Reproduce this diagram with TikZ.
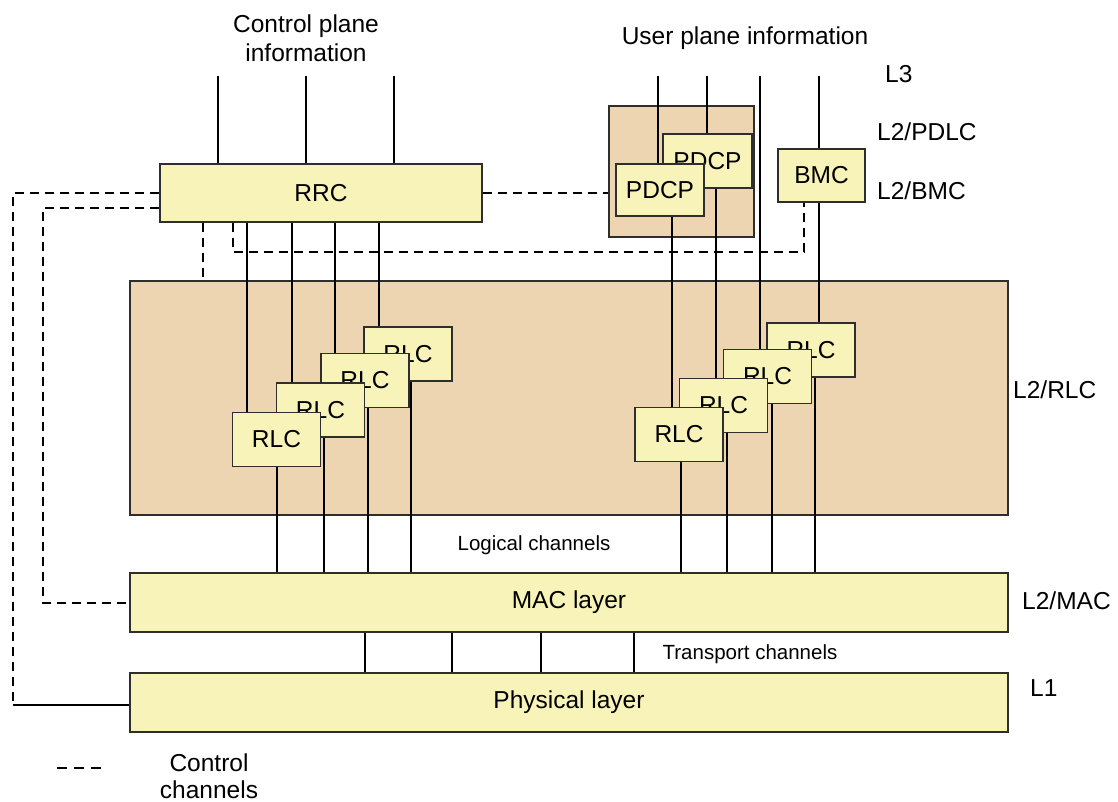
\documentclass[tikz,border=0pt]{standalone}
\usepackage{fontspec}
\setmainfont{Liberation Sans}
\definecolor{boxfill}{HTML}{F8F4B9}
\definecolor{areafill}{HTML}{EDD5B1}
\definecolor{edge}{HTML}{2E2E2E}
\pgfdeclarelayer{base}
\pgfdeclarelayer{wires}
\pgfsetlayers{base,wires,main}
\begin{document}
\begin{tikzpicture}[x=1pt,y=-1pt,
  bigtext/.style={font=\fontsize{24.5}{29}\selectfont, inner sep=0pt, align=center},
  smalltext/.style={font=\fontsize{20.5}{24}\selectfont, inner sep=0pt},
  layerbox/.style={draw=edge, line width=1.4pt, fill=boxfill, inner sep=0pt,
    font=\fontsize{24.5}{29}\selectfont},
  areabox/.style={draw=edge, line width=1.4pt, fill=areafill, inner sep=0pt},
  unitbox/.style={layerbox, minimum width=88pt, minimum height=54pt},
  link/.style={line width=1.1pt, black},
  ctrl/.style={line width=1.3pt, black, dash pattern=on 9pt off 6pt}]
\useasboundingbox (0,0) rectangle (1118,802);

% ---- boxes
\node[layerbox, minimum width=322pt, minimum height=58pt] (rrc) at (321,193) {RRC};
\node[layerbox, minimum width=878pt, minimum height=59pt] (mac) at (569,602.5) {MAC layer};
\node[layerbox, minimum width=878pt, minimum height=59pt] (phy) at (569,702.5) {Physical layer};

\node[unitbox, minimum width=89pt] (pdcpb) at (707.5,161) {PDCP};
\node[unitbox, minimum height=52pt] (pdcpf) at (660,190) {PDCP};
\node[unitbox, minimum width=87pt, minimum height=53pt] (bmc) at (821.5,175.5) {BMC};

% RLC units, back to front
\node[unitbox] (l4) at (408,354) {RLC};
\node[unitbox] (l3) at (365,380.5) {RLC};
\node[unitbox] (l2) at (320.5,410) {RLC};
\node[unitbox] (l1) at (276.5,439.5) {RLC};
\node[unitbox] (r4) at (811,350) {RLC};
\node[unitbox] (r3) at (767.5,376.5) {RLC};
\node[unitbox] (r2) at (723.5,405.5) {RLC};
\node[unitbox] (r1) at (679,434.5) {RLC};

% ---- background areas
\begin{pgfonlayer}{base}
\node[areabox, minimum width=878pt, minimum height=234pt] (rlcarea) at (569,398) {};
\node[areabox, minimum width=145pt, minimum height=131pt] (pdcparea) at (681.5,171.5) {};
\end{pgfonlayer}

% free ends of the upper interfaces
\coordinate (c1) at (218,76);
\coordinate (c2) at (306,76);
\coordinate (c3) at (394,76);
\coordinate (u1) at (658,76);
\coordinate (u2) at (707,76);
\coordinate (u3) at (760,76);
\coordinate (u4) at (819,76);
\coordinate (ko) at (13,193);
\coordinate (ki) at (43,208);
\coordinate (kr) at (233,252);

% ---- connectors
\begin{pgfonlayer}{wires}
% control plane into RRC
\draw[link] (c1) -- (c1 |- rrc.north);
\draw[link] (c2) -- (c2 |- rrc.north);
\draw[link] (c3) -- (c3 |- rrc.north);

% RRC down to the RLC units
\draw[link] (rrc.south -| 247,0) -- (l1.north -| 247,0);
\draw[link] (rrc.south -| 292,0) -- (l2.north -| 292,0);
\draw[link] (rrc.south -| 335,0) -- (l3.north -| 335,0);
\draw[link] (rrc.south -| 379,0) -- (l4.north -| 379,0);

% user plane
\draw[link] (u1) -- (u1 |- pdcpf.north);
\draw[link] (u2) -- (u2 |- pdcpb.north);
\draw[link] (u3) -- (u3 |- r3.north);
\draw[link] (u4) -- (u4 |- r4.north);
\draw[link] (pdcpf.south -| 672,0) -- (r1.north -| 672,0);
\draw[link] (pdcpb.south -| 716,0) -- (r2.north -| 716,0);

% logical channels
\draw[link] (l1.south -| 277,0) -- (mac.north -| 277,0);
\draw[link] (l2.south -| 324,0) -- (mac.north -| 324,0);
\draw[link] (l3.south -| 368,0) -- (mac.north -| 368,0);
\draw[link] (l4.south -| 411,0) -- (mac.north -| 411,0);
\draw[link] (r1.south -| 681,0) -- (mac.north -| 681,0);
\draw[link] (r2.south -| 727,0) -- (mac.north -| 727,0);
\draw[link] (r3.south -| 772,0) -- (mac.north -| 772,0);
\draw[link] (r4.south -| 815,0) -- (mac.north -| 815,0);

% transport channels
\foreach \tx in {365,452,541,634}
  \draw[link] (mac.south -| \tx,0) -- (phy.north -| \tx,0);

% control channels
\draw[ctrl] (rrc.west |- ko) -- (ko) -- (13,705);
\draw[link] (13,705) -- (phy.west |- 0,705);
\draw[ctrl] (rrc.west |- ki) -- (ki) -- (43,603) -- (mac.west |- 0,603);
\draw[ctrl] (rrc.south -| 203,0) -- (rlcarea.north -| 203,0);
\draw[ctrl] (rrc.south -| kr) -- (kr) -- (kr -| 804,0) -- (bmc.south -| 804,0);
\draw[ctrl] (rrc.east) -- (pdcparea.west |- rrc.east);
\end{pgfonlayer}

% ---- labels
\node[bigtext] (cpinfo) at (306,38) {Control plane\\information};
\node[bigtext] (upinfo) at (745,38) {User plane information};
\node[bigtext, anchor=west] (lthree) at (885,74) {L3};
\node[bigtext, anchor=west] (lpdlc) at (877,132) {L2/PDLC};
\node[bigtext, anchor=west] (lbmc) at (877,191) {L2/BMC};
\node[bigtext, anchor=west] (lrlc) at (1013,390) {L2/RLC};
\node[bigtext, anchor=west] (lmac) at (1022,601) {L2/MAC};
\node[bigtext, anchor=west] (lone) at (1030,688) {L1};
\node[smalltext] (logch) at (534,545) {Logical channels};
\node[smalltext] (trch) at (750,654) {Transport channels};

% legend
\coordinate (lg1) at (57,768);
\coordinate (lg2) at (101,768);
\draw[line width=1.1pt, dash pattern=on 10pt off 7pt] (lg1) -- (lg2);
\node[bigtext, font=\fontsize{24.5}{27.5}\selectfont] (lgtext) at (209,776) {Control\\channels};
\end{tikzpicture}
\end{document}
